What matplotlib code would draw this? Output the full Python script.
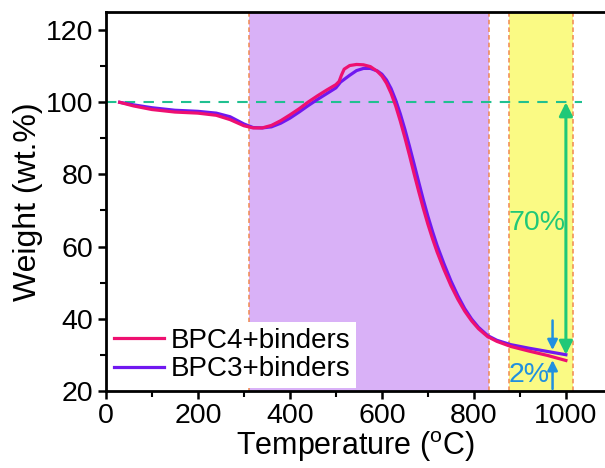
import numpy as np
import matplotlib
matplotlib.use("Agg")
import matplotlib.pyplot as plt

plt.rcParams['font.family'] = ['Liberation Sans', 'DejaVu Sans']
plt.rcParams['mathtext.fontset'] = 'custom'
plt.rcParams['mathtext.rm'] = 'Liberation Sans'

# TGA curves
temp_bpc4 = [30, 60, 100, 150, 200, 240, 270, 300, 320, 340, 360, 380, 400, 420, 440,
             460, 480, 500, 507, 512, 518, 530, 545, 560, 575, 590, 600, 610, 620, 630,
             640, 650, 660, 670, 680, 690, 700, 710, 720, 735, 750, 765, 780, 795, 810,
             830, 850, 880, 920, 960, 1000]
weight_bpc4 = [100, 99.0, 98.0, 97.3, 97.0, 96.4, 95.2, 93.5, 92.9, 92.9, 93.6, 94.9, 96.5,
               98.2, 100.1, 101.8, 103.4, 104.9, 105.8, 107.5, 109.2, 110.2, 110.5, 110.4,
               109.9, 108.6, 107.3, 105.3, 102.5, 99.0, 94.8, 90.2, 85.3, 80.2, 75.3, 70.6,
               66.2, 62.2, 58.5, 53.6, 49.2, 45.4, 42.1, 39.4, 37.2, 35.0, 33.7, 32.3, 31.0,
               29.8, 28.4]

temp_bpc3 = [30, 60, 100, 150, 200, 240, 270, 300, 320, 340, 360, 380, 400, 420, 440,
             460, 480, 500, 510, 530, 545, 560, 575, 590, 600, 610, 620, 630, 640, 650,
             660, 670, 680, 690, 700, 710, 720, 735, 750, 765, 780, 795, 810, 830, 850,
             880, 920, 960, 1000]
weight_bpc3 = [100, 99.3, 98.5, 97.8, 97.5, 97.0, 96.0, 94.0, 93.0, 92.9, 93.2, 94.2, 95.6,
               97.3, 99.1, 100.8, 102.4, 104.0, 105.6, 107.5, 108.8, 109.4, 109.4, 108.7,
               107.8, 106.2, 103.8, 100.6, 96.8, 92.5, 87.8, 82.9, 77.9, 73.0, 68.4, 64.2,
               60.3, 55.2, 50.5, 46.4, 42.8, 39.9, 37.6, 35.3, 34.0, 32.8, 31.8, 30.9, 30.0]

purple_zone = (312, 832)
yellow_zone = (876, 1015)

fig = plt.figure(figsize=(6.05, 4.68), dpi=100)
ax = fig.add_axes([0.175, 0.165, 0.825, 0.809])

ax.axvspan(*purple_zone, color='#d9b1f7', lw=0, zorder=0)
ax.axvspan(*yellow_zone, color='#fafa84', lw=0, zorder=0)
for xv in purple_zone + yellow_zone:
    ax.axvline(xv, color='#f08850', ls=(0, (3, 2)), lw=1.1, zorder=1)

ax.plot([0, 1035], [100, 100], color='#20c090', ls=(0, (5, 4)), lw=1.5, zorder=2)

ax.plot(temp_bpc4, weight_bpc4, color='#ee1070', lw=2.3, label='BPC4+binders', zorder=4)
ax.plot(temp_bpc3, weight_bpc3, color='#7018f0', lw=2.3, label='BPC3+binders', zorder=3)

# 70% arrow
ax.annotate('', xy=(1000, 100), xytext=(1000, 30),
            arrowprops=dict(arrowstyle='<|-|>', color='#20c878', lw=2.2,
                            mutation_scale=20, shrinkA=0, shrinkB=0))
ax.text(999, 66.5, '70%', color='#20c878', fontsize=20.5, ha='right', va='center')

# 2% arrows
ax.annotate('', xy=(971, 31.3), xytext=(971, 39.5),
            arrowprops=dict(arrowstyle='-|>', color='#2090e0', lw=1.8,
                            mutation_scale=15, shrinkA=0, shrinkB=0))
ax.annotate('', xy=(971, 28.5), xytext=(971, 20.5),
            arrowprops=dict(arrowstyle='-|>', color='#2090e0', lw=1.8,
                            mutation_scale=15, shrinkA=0, shrinkB=0))
ax.text(876, 24.3, '2%', color='#2090e0', fontsize=20.5, ha='left', va='center')

ax.set_xlim(0, 1085)
ax.set_ylim(20, 125)
ax.set_xticks(np.arange(0, 1001, 200))
ax.set_xticks(np.arange(100, 1001, 200), minor=True)
ax.set_yticks(np.arange(20, 121, 20))
ax.set_yticks(np.arange(30, 121, 20), minor=True)
ax.tick_params(which='major', direction='out', length=6, width=1.8, labelsize=20.5, pad=3)
ax.tick_params(which='minor', direction='out', length=4, width=1.5)
for sp in ax.spines.values():
    sp.set_linewidth(2)
ax.spines['right'].set_visible(False)

ax.set_xlabel(r'Temperature ($^\mathrm{o}$C)', fontsize=22, labelpad=0)
ax.set_ylabel('Weight (wt.%)', fontsize=23, labelpad=2)

leg = ax.legend(loc='lower left', fontsize=20, frameon=True, fancybox=False,
                borderaxespad=0.1, handlelength=1.8, handletextpad=0.25,
                labelspacing=0.1, borderpad=0.2)
leg.get_frame().set_edgecolor('none')
leg.get_frame().set_facecolor('white')
leg.get_frame().set_alpha(1)

fig.savefig('out.png', dpi=100)
